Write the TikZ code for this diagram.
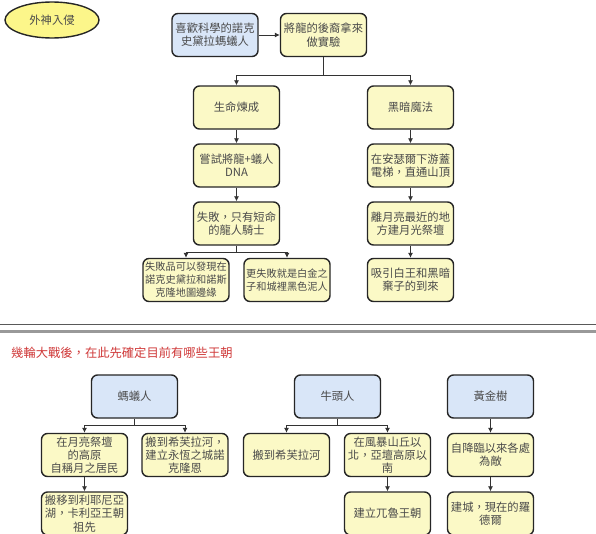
\documentclass[tikz,border=0pt]{standalone}
\usepackage{fontspec}
\setmainfont{Noto Sans CJK TC}
\usetikzlibrary{arrows.meta,shapes.geometric}
\definecolor{yel}{HTML}{FBF9C6}
\definecolor{blu}{HTML}{D9E6F8}
\definecolor{ell}{HTML}{FCF68A}
\definecolor{txt}{HTML}{4A4A4A}
\definecolor{ttl}{HTML}{D03A3A}
\tikzset{
  box/.style={draw=black!85, line width=1.4pt, rounded corners=6pt, minimum width=86pt, minimum height=43pt, inner sep=1pt, align=center, text=txt, font=\fontsize{11.3}{13.3}\selectfont},
  ybox/.style={box, fill=yel},
  bbox/.style={box, fill=blu},
  small/.style={font=\fontsize{10.2}{13}\selectfont},
  arr/.style={draw=black!80, line width=0.8pt, -{Latex[length=5pt,width=5pt]}},
  ln/.style={draw=black!80, line width=0.8pt},
}
\begin{document}
\begin{tikzpicture}[x=1pt,y=-1pt]
\clip (0,0) rectangle (596,533);
\fill[white] (0,0) rectangle (596,533);
% top section
\node[ellipse, draw=black!85, line width=1.4pt, fill=ell, minimum width=94pt, minimum height=36pt, text=txt, font=\fontsize{11.3}{13}\selectfont] (o) at (52,20) {外神入侵};
\node[bbox] (b1) at (215,35) {喜歡科學的諾克\\史黛拉螞蟻人};
\node[ybox] (b2) at (323.5,35) {將龍的後裔拿來\\做實驗};
\node[ybox] (c1) at (236.5,107.5) {生命煉成};
\node[ybox] (c2) at (410.5,107.5) {黑暗魔法};
\node[ybox] (d1) at (236.5,165.5) {嘗試將龍+蟻人\\DNA};
\node[ybox] (d2) at (410.5,165.5) {在安瑟爾下游蓋\\電梯，直通山頂};
\node[ybox] (e1) at (236.5,223.5) {失敗，只有短命\\的龍人騎士};
\node[ybox] (e2) at (410.5,223.5) {離月亮最近的地\\方建月光祭壇};
\node[ybox, small] (f1) at (186,280) {失敗品可以發現在\\諾克史黛拉和諾斯\\克隆地圖邊緣};
\node[ybox, small] (f2) at (287,280) {更失敗就是白金之\\子和城裡黑色泥人};
\node[ybox] (f3) at (410.5,280) {吸引白王和黑暗\\棄子的到來};
\draw[arr] (b1) -- (b2);
\draw[ln] (b2.south) -- ++(0,18) coordinate (j1);
\draw[arr] (j1) -| (c1.north);
\draw[arr] (j1) -| (c2.north);
\draw[arr] (c1) -- (d1);
\draw[arr] (d1) -- (e1);
\draw[arr] (c2) -- (d2);
\draw[arr] (d2) -- (e2);
\draw[arr] (e2) -- (f3);
\draw[ln] (e1.south) -- ++(0,7) coordinate (j2);
\draw[arr] (j2) -| (f1.north);
\draw[arr] (j2) -| (f2.north);
% separator
\draw[black!65, line width=1pt] (0,324.5) -- (596,324.5);
\draw[black!40, line width=2.5pt] (0,331.5) -- (596,331.5);
\node[anchor=west, text=ttl, inner sep=0pt, font=\fontsize{12.3}{14}\selectfont] (t) at (11,353) {幾輪大戰後，在此先確定目前有哪些王朝};
% bottom section
\node[bbox] (g1) at (134.5,396.5) {螞蟻人};
\node[bbox] (g2) at (337.5,396.5) {牛頭人};
\node[bbox] (g3) at (490.5,396.5) {黃金樹};
\node[ybox] (h1) at (84.5,455) {在月亮祭壇\\的高原\\自稱月之居民};
\node[ybox] (h2) at (185,455) {搬到希芙拉河，\\建立永恆之城諾\\克隆恩};
\node[ybox] (h3) at (286.5,455) {搬到希芙拉河};
\node[ybox] (h4) at (387.5,455) {在風暴山丘以\\北，亞壇高原以\\南};
\node[ybox] (h5) at (490.5,455) {自降臨以來各處\\為敵};
\node[ybox] (i1) at (84.5,513.5) {搬移到利耶尼亞\\湖，卡利亞王朝\\祖先};
\node[ybox] (i2) at (387.5,513.5) {建立兀魯王朝};
\node[ybox] (i3) at (490.5,513.5) {建城，現在的羅\\德爾};
\draw[ln] (g1.south) -- ++(0,7) coordinate (k1);
\draw[arr] (k1) -| (h1.north);
\draw[arr] (k1) -| (h2.north);
\draw[ln] (g2.south) -- ++(0,7) coordinate (k2);
\draw[arr] (k2) -| (h3.north);
\draw[arr] (k2) -| (h4.north);
\draw[arr] (g3) -- (h5);
\draw[arr] (h1) -- (i1);
\draw[arr] (h4) -- (i2);
\draw[arr] (h5) -- (i3);
\end{tikzpicture}
\end{document}
